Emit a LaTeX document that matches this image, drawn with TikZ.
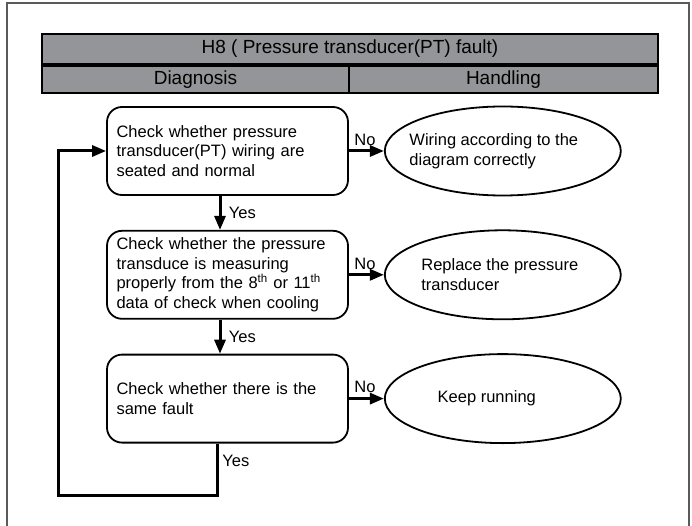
\documentclass[tikz,border=0pt]{standalone}
\usepackage{fontspec}
\setmainfont{Liberation Sans}
\usetikzlibrary{arrows.meta,positioning,shapes.geometric}
\definecolor{hdrgray}{HTML}{939598}
\definecolor{framegray}{HTML}{5A5A5A}

\begin{document}
\begin{tikzpicture}[
  x=1pt, y=-1pt,
  node distance=34pt and 35pt,
  font=\fontsize{16.5}{19.5}\selectfont,
  head/.style={draw, fill=hdrgray, line width=2.2pt, inner sep=0pt,
               font=\fontsize{19}{22}\selectfont},
  box/.style={draw, rounded corners=15pt, minimum width=241pt, minimum height=88pt,
              text width=222pt, align=left, inner sep=2pt, line width=1.8pt},
  oval/.style={draw, ellipse, minimum width=236pt, minimum height=89pt,
               inner sep=0pt, line width=1.8pt},
  arrow/.style={-{Triangle[length=14pt,width=11pt]}, line width=3pt},
]
  \useasboundingbox (0,0) rectangle (692,526);
  \draw[framegray, line width=1.5pt] (7,526) -- (7,3) -- (689,3) -- (689,526);

  \node[head, minimum width=616pt, minimum height=30pt] (title) at (350,49)
    {H8 ( Pressure transducer(PT) fault)};
  \node[head, minimum width=307pt, minimum height=27pt, anchor=north west] (diag)
    at (title.south west) {Diagnosis};
  \node[head, minimum width=309pt, minimum height=27pt, anchor=north east] (hand)
    at (title.south east) {Handling};

  \node[box] (b1) at (227.5,151) {Check whether pressure\\transducer(PT) wiring are\\seated and normal};
  \node[box, below=of b1] (b2) {Check whether the pressure\\transduce is measuring\\properly from the 8\textsuperscript{th} or 11\textsuperscript{th}\\data of check when cooling};
  \node[box, below=of b2] (b3) {Check whether there is the\\same fault};

  \node[oval, right=of b1, label={[xshift=-9pt, align=left]center:Wiring according to the\\diagram correctly}] (h1) {};
  \node[oval, right=of b2, label={[xshift=-3pt, align=left]center:Replace the pressure\\transducer}] (h2) {};
  \node[oval, right=of b3, label={[xshift=-16pt]center:Keep running}] (h3) {};

  \coordinate (back) at (58,495);

  \draw[arrow] (b1.east) -- node[pos=0, above right, inner sep=4pt] {No} (h1.west);
  \draw[arrow] (b2.east) -- node[pos=0, above right, inner sep=4pt] {No} (h2.west);
  \draw[arrow] (b3.east) -- node[pos=0, above right, inner sep=4pt] {No} (h3.west);
  \draw[arrow] ([xshift=-7.5pt]b1.south) -- node[right=4pt] {Yes} ([xshift=-7.5pt]b2.north);
  \draw[arrow] ([xshift=-7.5pt]b2.south) -- node[right=4pt] {Yes} ([xshift=-7.5pt]b3.north);
  \draw[arrow] ([xshift=-10pt]b3.south) node[below right, yshift=-7pt] {Yes}
    |- (back) |- (b1.west);
\end{tikzpicture}
\end{document}
